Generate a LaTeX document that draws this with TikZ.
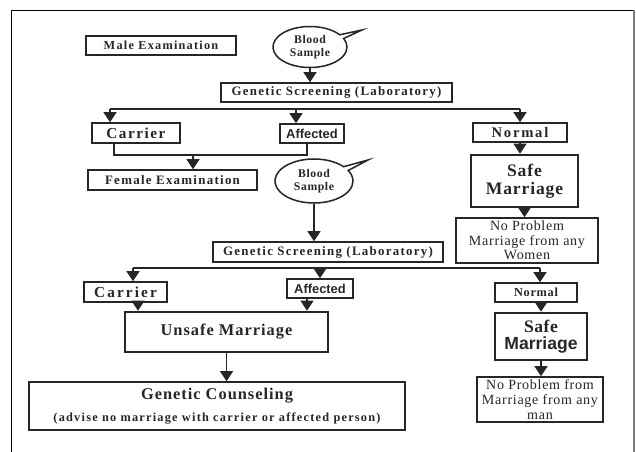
\documentclass[tikz,border=0pt]{standalone}
\usepackage{fontspec}
\setmainfont{Liberation Serif}
\setsansfont{Liberation Sans}
\usetikzlibrary{arrows.meta,shapes.callouts}

\definecolor{ink}{HTML}{262626}
\newcommand\lbl[3]{\fontsize{#1}{#2}\selectfont\bfseries\addfontfeatures{LetterSpace=#3}}
\newcommand\txt[3]{\fontsize{#1}{#2}\selectfont\addfontfeatures{LetterSpace=#3}}
\newcommand\slbl[2]{\fontsize{#1}{#2}\selectfont\sffamily\bfseries}

\tikzset{
  box/.style={draw=ink, line width=1.3pt, text=ink, align=center, inner sep=0pt},
  thickbox/.style={box, line width=2.2pt},
  bubble/.style={ellipse callout, draw=ink, line width=1.3pt, text=ink, align=center, inner sep=0pt, callout pointer arc=12},
  line/.style={draw=ink, line width=1.7pt},
  arr/.style={line, -{Triangle[width=0.38cm,length=0.3cm]}}
}

\begin{document}
\begin{tikzpicture}[x=0.03cm,y=-0.03cm]
  \useasboundingbox (0,0) rectangle (636,452);
  \draw[line width=0.8pt] (11,452) -- (11,10) -- (634,10);
  \draw[line width=1.2pt,gray] (634,10) -- (634,452);

  \node[box, minimum width=4.5cm, minimum height=0.57cm, font=\lbl{10.5}{12}{10}] (male) at (161,45.5) {Male Examination};
  \node[bubble, minimum width=2.22cm, minimum height=1.23cm, callout absolute pointer={(362,30)}, font=\lbl{10}{11.5}{5}] (blood1) at (310,47) {Blood\\Sample};
  \node[box, minimum width=6.93cm, minimum height=0.57cm, font=\lbl{11}{12}{10}] (screen1) at (336.5,92.5) {Genetic Screening (Laboratory)};

  \node[box, minimum width=2.64cm, minimum height=0.6cm, font=\lbl{13}{14}{10}] (carrier1) at (136,133) {Carrier};
  \node[box, minimum width=1.92cm, minimum height=0.57cm, font=\slbl{11}{13}] (affected1) at (312,133.5) {Affected};
  \node[box, minimum width=2.82cm, minimum height=0.57cm, font=\lbl{12.5}{14}{12}] (normal1) at (520,132.5) {Normal};
  \node[thickbox, minimum width=3.21cm, minimum height=1.56cm, font=\lbl{15}{15}{5}] (safe1) at (524.5,181) {Safe\\Marriage};
  \node[box, minimum width=4.26cm, minimum height=1.35cm, font=\txt{12}{12.5}{5}] (noprob1) at (527,240.5) {No Problem\\Marriage from any\\Women};

  \node[box, minimum width=5.07cm, minimum height=0.6cm, font=\lbl{11}{12}{10}] (female) at (172.5,180) {Female Examination};
  \node[bubble, minimum width=2.34cm, minimum height=1.32cm, callout absolute pointer={(368,160)}, font=\lbl{10}{11.5}{5}] (blood2) at (314,181) {Blood\\Sample};
  \node[box, minimum width=6.9cm, minimum height=0.6cm, font=\lbl{11}{12}{10}] (screen2) at (328,252) {Genetic Screening (Laboratory)};

  \node[box, minimum width=2.49cm, minimum height=0.6cm, font=\lbl{13}{14}{14}] (carrier2) at (125.5,292) {Carrier};
  \node[box, minimum width=1.98cm, minimum height=0.57cm, font=\slbl{11}{13}] (affected2) at (320,288.5) {Affected};
  \node[box, minimum width=2.46cm, minimum height=0.57cm, font=\lbl{10.5}{12}{6}] (normal2) at (536,292.5) {Normal};
  \node[thickbox, minimum width=6.09cm, minimum height=1.2cm, font=\lbl{14}{16}{6}] (unsafe) at (226.5,332) {Unsafe Marriage};
  \node[thickbox, minimum width=2.76cm, minimum height=1.41cm, font=\lbl{15}{15}{3}] (safe2) at (541,336.5) {Safe\\{\sffamily Marriage}};
  \node[box, minimum width=11.28cm, minimum height=1.44cm, font=\lbl{14}{16}{6}] (counsel) at (217,406) {Genetic Counseling\\[3pt]{\lbl{10.5}{12}{10}(advise no marriage with carrier or affected person)}};
  \node[box, minimum width=3.78cm, minimum height=1.35cm, font=\txt{12}{12.5}{5}] (noprob2) at (540,399.5) {No Problem from\\Marriage from any\\man};

  \draw[arr] (blood1.south) -- (blood1.south |- screen1.north);
  \coordinate (bus1w) at (110,109);
  \coordinate (bus1m) at (296,109);
  \coordinate (bus1e) at (520,109);
  \draw[line] (bus1w) -- (bus1e);
  \draw[arr] (bus1w) -- (bus1w |- carrier1.north);
  \draw[arr] (bus1m) -- (bus1m |- affected1.north);
  \draw[arr] (bus1e) -- (bus1e |- normal1.north);

  \coordinate (joinw) at (114,155);
  \coordinate (joinm) at (193,155);
  \coordinate (joine) at (307,155);
  \draw[line] (joinw |- carrier1.south) -- (joinw) -- (joine) -- (joine |- affected1.south);
  \draw[arr] (joinm) -- (joinm |- female.north);

  \draw[arr] (normal1.south) -- (normal1.south |- safe1.north);
  \draw[arr] (safe1.south) -- (safe1.south |- noprob1.north);

  \draw[arr] (blood2.south) -- (blood2.south |- screen2.north);
  \coordinate (bus2w) at (133,268);
  \coordinate (bus2m) at (320,268);
  \coordinate (bus2e) at (540,268);
  \draw[line] (bus2w) -- (bus2e);
  \draw[arr] (bus2w) -- (bus2w |- carrier2.north);
  \draw[arr] (bus2m) -- (bus2m |- affected2.north);
  \draw[arr] (bus2e) -- (bus2e |- normal2.north);

  \coordinate (feedw) at (138,0);
  \coordinate (feede) at (307,0);
  \draw[arr] (feedw |- carrier2.south) -- (feedw |- unsafe.north);
  \draw[arr] (feede |- affected2.south) -- (feede |- unsafe.north);
  \draw[arr] (unsafe.south) -- (unsafe.south |- counsel.north);
  \draw[arr] (safe2.north |- normal2.south) -- (safe2.north);
  \draw[arr] (safe2.south) -- (safe2.south |- noprob2.north);
\end{tikzpicture}
\end{document}
